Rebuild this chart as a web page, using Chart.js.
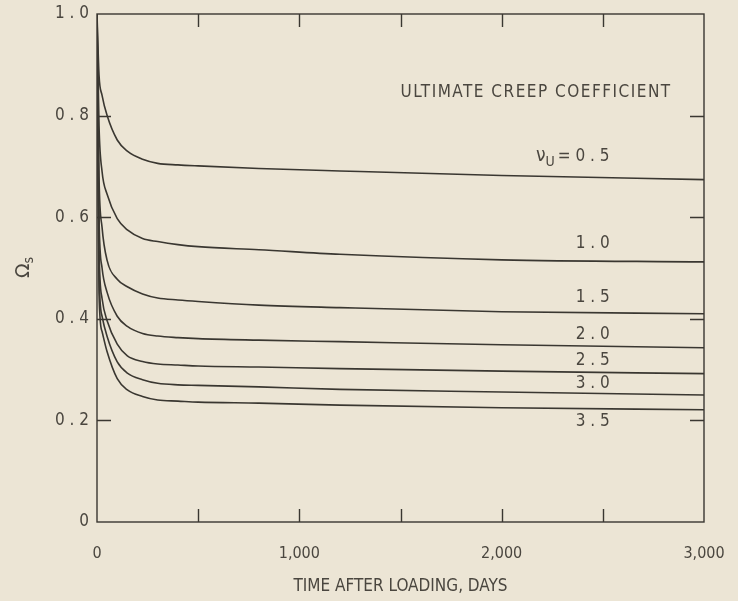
<!DOCTYPE html>
<html>
<head>
<meta charset="utf-8">
<script src="https://cdn.jsdelivr.net/npm/chart.js@4.4.1/dist/chart.umd.min.js"></script>
<style>
  html, body { margin: 0; padding: 0; background: #ece5d5; }
  #wrap { width: 738px; height: 601px; }
</style>
</head>
<body>
<div id="wrap"><canvas id="creep"></canvas></div>
<script>
// time after loading, days
const days = [0, 10, 25, 50, 100, 150, 225, 300, 400, 500, 800, 1200, 2000, 3000];

// ultimate creep coefficient of each curve
const creepCoefficients = ['0.5', '1.0', '1.5', '2.0', '2.5', '3.0', '3.5'];

// omega_s, one array per creep coefficient
const omega05 = [1.0, 0.88, 0.84, 0.80, 0.752, 0.730, 0.714, 0.706, 0.703, 0.701, 0.696, 0.691, 0.682, 0.674];
const omega10 = [1.0, 0.78, 0.69, 0.645, 0.597, 0.575, 0.558, 0.552, 0.546, 0.542, 0.536, 0.527, 0.516, 0.512];
const omega15 = [1.0, 0.68, 0.58, 0.515, 0.478, 0.463, 0.449, 0.441, 0.437, 0.434, 0.427, 0.422, 0.414, 0.410];
const omega20 = [1.0, 0.60, 0.50, 0.452, 0.405, 0.385, 0.371, 0.366, 0.363, 0.361, 0.358, 0.355, 0.349, 0.343];
const omega25 = [1.0, 0.54, 0.44, 0.396, 0.350, 0.327, 0.316, 0.311, 0.309, 0.307, 0.305, 0.302, 0.297, 0.292];
const omega30 = [1.0, 0.49, 0.405, 0.365, 0.315, 0.293, 0.280, 0.273, 0.270, 0.269, 0.266, 0.261, 0.256, 0.250];
const omega35 = [1.0, 0.45, 0.375, 0.335, 0.282, 0.260, 0.247, 0.240, 0.238, 0.236, 0.234, 0.230, 0.225, 0.221];
const omegaSeries = [omega05, omega10, omega15, omega20, omega25, omega30, omega35];

// axis ticks
const xTickValues = [500, 1000, 1500, 2000, 2500];
const xTickLabels = ['0', '1,000', '2,000', '3,000'];
const yTickValues = [0.2, 0.4, 0.6, 0.8];

// where the curve labels sit (data coordinates)
const labelDay = 2450;
const labelOmega = [0.549, 0.441, 0.368, 0.317, 0.272, 0.197];

const INK = '#3a3731';
const TEXT = '#4a463f';
const FONT = "'Liberation Sans Narrow', 'DejaVu Sans Condensed', sans-serif";

function spaced(s) { return s.split('').join(' '); }

const decorations = {
  id: 'decorations',
  beforeDraw(chart) {
    const { ctx, width, height } = chart;
    ctx.save();
    ctx.fillStyle = '#ece5d5';
    ctx.fillRect(0, 0, width, height);
    ctx.restore();
  },
  afterDraw(chart) {
    const { ctx, chartArea: a, scales: { x, y } } = chart;
    ctx.save();
    ctx.strokeStyle = INK;
    ctx.lineWidth = 1.4;
    ctx.strokeRect(a.left, a.top, a.right - a.left, a.bottom - a.top);

    ctx.beginPath();
    yTickValues.forEach(v => {
      const py = Math.round(y.getPixelForValue(v)) + 0.5;
      ctx.moveTo(a.left, py); ctx.lineTo(a.left + 14, py);
      ctx.moveTo(a.right - 14, py); ctx.lineTo(a.right, py);
    });
    xTickValues.forEach(v => {
      const px = Math.round(x.getPixelForValue(v)) + 0.5;
      ctx.moveTo(px, a.bottom); ctx.lineTo(px, a.bottom - 13);
      ctx.moveTo(px, a.top); ctx.lineTo(px, a.top + 13);
    });
    ctx.stroke();

    ctx.fillStyle = TEXT;
    ctx.textBaseline = 'middle';
    ctx.textAlign = 'center';

    // curve labels 1.0 ... 3.5
    ctx.font = '17px ' + FONT;
    creepCoefficients.slice(1).forEach((c, i) => {
      ctx.fillText(spaced(c), x.getPixelForValue(labelDay), y.getPixelForValue(labelOmega[i]));
    });

    // header
    ctx.font = '17px ' + FONT;
    ctx.letterSpacing = '1.5px';
    ctx.fillText('ULTIMATE CREEP COEFFICIENT', x.getPixelForValue(2170), y.getPixelForValue(0.846));
    ctx.letterSpacing = '0px';

    // nu_U = 0.5
    const nx = x.getPixelForValue(2170), ny = y.getPixelForValue(0.720);
    ctx.textAlign = 'left';
    ctx.font = '19px ' + FONT;
    ctx.fillText('\u03bd', nx, ny);
    let w = ctx.measureText('\u03bd').width;
    ctx.font = '14px ' + FONT;
    ctx.fillText('U', nx + w, ny + 6);
    w += ctx.measureText('U').width + 3;
    ctx.font = '17px ' + FONT;
    ctx.fillText('= ' + spaced(creepCoefficients[0]), nx + w, ny);

    // y axis title: Omega_s, rotated
    ctx.translate(24, (a.top + a.bottom) / 2);
    ctx.rotate(-Math.PI / 2);
    ctx.textAlign = 'left';
    ctx.font = '19px DejaVu Sans, sans-serif';
    ctx.fillText('\u03a9', -10, 0);
    const ow = ctx.measureText('\u03a9').width;
    ctx.font = '14px ' + FONT;
    ctx.fillText('s', -10 + ow, 5);
    ctx.restore();
  }
};

new Chart(document.getElementById('creep'), {
  type: 'line',
  data: {
    datasets: omegaSeries.map((vals, i) => ({
      label: creepCoefficients[i],
      data: days.map((d, j) => ({ x: d, y: vals[j] })),
      borderColor: INK,
      borderWidth: 1.6,
      pointRadius: 0,
      fill: false,
      cubicInterpolationMode: 'monotone'
    }))
  },
  options: {
    responsive: true,
    maintainAspectRatio: false,
    animation: false,
    layout: { padding: { top: 14, right: 34, left: 0, bottom: 0 } },
    plugins: { legend: { display: false }, tooltip: { enabled: false } },
    scales: {
      x: {
        type: 'linear',
        min: 0,
        max: 3000,
        afterFit: s => { s.height = 79; s.paddingLeft = 0; s.paddingRight = 0; },
        grid: { display: false, drawTicks: false },
        border: { display: false },
        ticks: {
          stepSize: 1000,
          padding: 22,
          color: TEXT,
          font: { family: FONT, size: 16 },
          callback: v => xTickLabels[v / 1000] ?? ''
        },
        title: {
          display: true,
          text: 'TIME AFTER LOADING, DAYS',
          color: TEXT,
          font: { family: FONT, size: 17 },
          padding: { top: 0, bottom: 4 }
        }
      },
      y: {
        min: 0,
        max: 1,
        afterFit: s => { s.width = 97; s.paddingTop = 0; s.paddingBottom = 0; },
        grid: { display: false, drawTicks: false },
        border: { display: false },
        ticks: {
          stepSize: 0.2,
          padding: 8,
          color: TEXT,
          font: { family: FONT, size: 17 },
          callback: v => v === 0 ? '0' : spaced(v.toFixed(1))
        }
      }
    }
  },
  plugins: [decorations]
});
</script>
</body>
</html>
